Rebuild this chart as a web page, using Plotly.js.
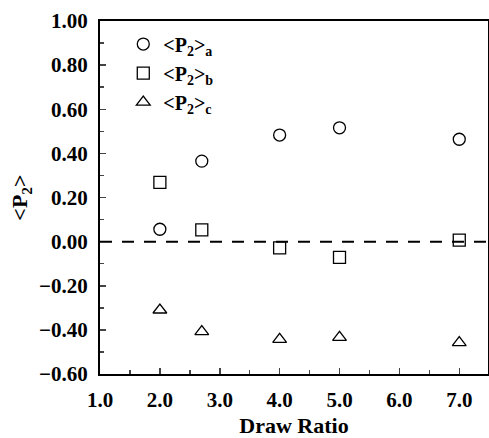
<!DOCTYPE html>
<html><head><meta charset="utf-8">
<script src="https://cdn.plot.ly/plotly-3.0.1.min.js"></script>
<style>body{margin:0;background:#fff}#c{width:489px;height:438px}</style>
</head><body><div id="c"></div>
<script>
const drawRatio = [2.0, 2.7, 4.0, 5.0, 7.0];
const p2a = [0.056, 0.365, 0.483, 0.516, 0.464];
const p2b = [0.269, 0.053, -0.028, -0.071, 0.007];
const p2c = [-0.31, -0.408, -0.443, -0.434, -0.458];
const xTicks = [1, 2, 3, 4, 5, 6, 7];
const xTickText = ['1.0','2.0','3.0','4.0','5.0','6.0','7.0'];
const yTicks = [-0.6,-0.4,-0.2,0,0.2,0.4,0.6,0.8,1.0];
const yTickText = ['\u22120.60','\u22120.40','\u22120.20','0.00','0.20','0.40','0.60','0.80','1.00'];

const mk = (sym) => ({symbol: sym, size: 12, color: 'rgba(255,255,255,0)', line: {color: '#000', width: 1.3}});
const traces = [
  {x: drawRatio, y: p2a, mode: 'markers', name: '&lt;P<sub>2</sub>&gt;<sub>a</sub>', marker: mk('circle')},
  {x: drawRatio, y: p2b, mode: 'markers', name: '&lt;P<sub>2</sub>&gt;<sub>b</sub>', marker: mk('square')},
  {x: drawRatio, y: p2c, mode: 'markers', name: '&lt;P<sub>2</sub>&gt;<sub>c</sub>', marker: mk('triangle-up')}
];
const fam = '"Liberation Serif", "Times New Roman", serif';
const layout = {
  width: 489, height: 438,
  margin: {l: 100, r: 1, t: 21, b: 64},
  paper_bgcolor: '#fff', plot_bgcolor: '#fff',
  font: {family: fam, color: '#000'},
  showlegend: true,
  legend: {x: 0.06, y: 0.99, xanchor: 'left', yanchor: 'top', bgcolor: 'rgba(0,0,0,0)',
           font: {family: fam, size: 20, color: '#000', weight: 'bold'}, tracegroupgap: 0},
  xaxis: {range: [1, 7.48], tickvals: xTicks, ticktext: xTickText, ticks: 'inside', ticklen: 6, tickwidth: 1.5,
          minor: {dtick: 0.5, ticks: 'inside', ticklen: 4, tickwidth: 1.5, tick0: 1},
          showline: true, linewidth: 2, linecolor: '#000', mirror: true, showgrid: false, zeroline: false,
          ticklabelstandoff: 6,
          tickfont: {family: fam, size: 21, weight: 'bold', color: '#000'},
          title: {text: 'Draw Ratio', standoff: 6, font: {family: fam, size: 22, weight: 'bold', color: '#000'}}},
  yaxis: {range: [-0.6, 1.0], tickvals: yTicks, ticktext: yTickText, ticks: 'inside', ticklen: 6, tickwidth: 1.5,
          minor: {dtick: 0.1, ticks: 'inside', ticklen: 4, tickwidth: 1.5, tick0: 0},
          showline: true, linewidth: 2, linecolor: '#000', mirror: true, showgrid: false, zeroline: false,
          ticklabelstandoff: 6,
          tickfont: {family: fam, size: 21, weight: 'bold', color: '#000'},
          title: {text: '&lt;P<sub>2</sub>&gt;', standoff: 5, font: {family: fam, size: 22, weight: 'bold', color: '#000'}}},
  shapes: [{type: 'line', xref: 'paper', x0: 0, x1: 1, yref: 'y', y0: 0, y1: 0,
            line: {color: '#000', width: 2, dash: '12px,10px'}}]
};
Plotly.newPlot('c', traces, layout, {staticPlot: true});
</script></body></html>
